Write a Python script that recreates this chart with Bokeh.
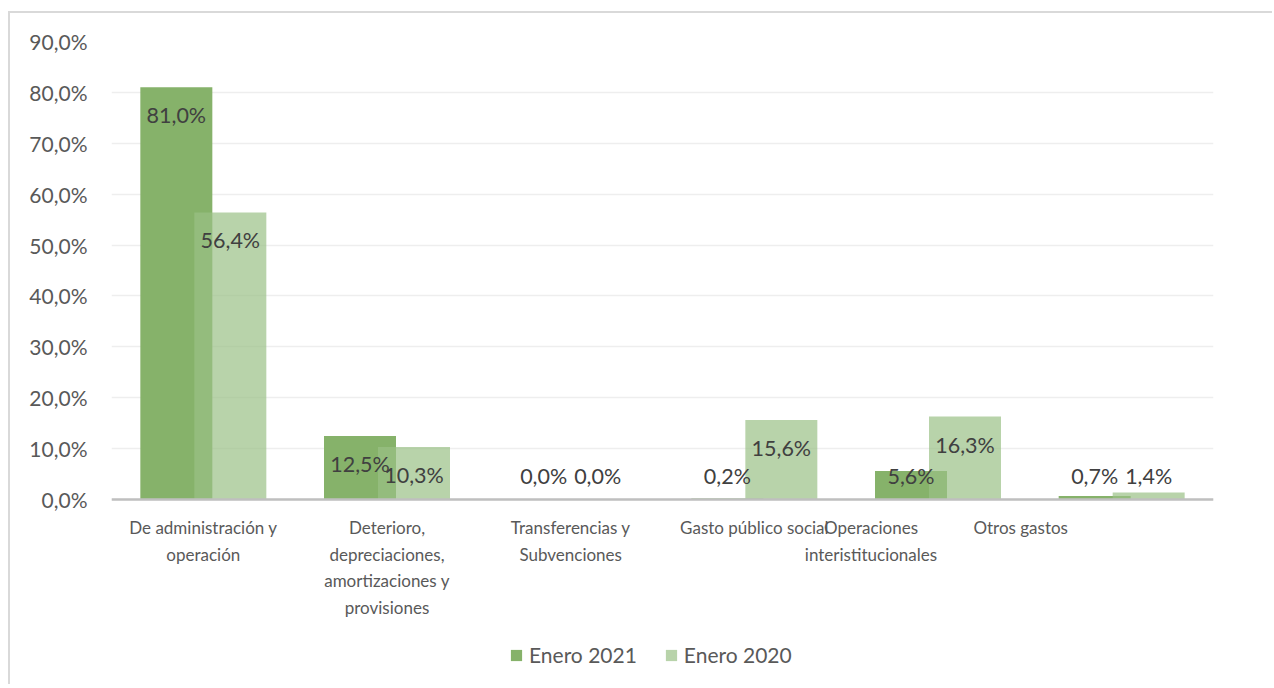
from bokeh.plotting import figure
from bokeh.models import FactorRange, Range1d, FixedTicker, ColumnDataSource, Span
from bokeh.transform import dodge
from bokeh.core.properties import value
from bokeh.embed import file_html
from bokeh.resources import INLINE

# ---------------- data ----------------
categories = ["De administración y operación",
              "Deterioro, depreciaciones, amortizaciones y provisiones",
              "Transferencias y Subvenciones",
              "Gasto público social",
              "Operaciones interistitucionales",
              "Otros gastos"]
category_lines = [["De administración y", "operación"],
                  ["Deterioro,", "depreciaciones,", "amortizaciones y", "provisiones"],
                  ["Transferencias y", "Subvenciones"],
                  ["Gasto público social"],
                  ["Operaciones", "interistitucionales"],
                  ["Otros gastos"]]
enero_2021 = [81.0, 12.5, 0.0, 0.2, 5.6, 0.7]
enero_2020 = [56.4, 10.3, 0.0, 15.6, 16.3, 1.4]
series_names = ["Enero 2021", "Enero 2020"]
y_ticks = [0, 10, 20, 30, 40, 50, 60, 70, 80, 90]

# ---------------- layout / style ----------------
W, H = 1264, 673
LEFT, RIGHT, TOP, BOTTOM = 103, 59, 30, 4
PLOT_H_POS = 458          # px from 0% to 90%
PLOT_H_NEG = 181          # px below 0% (label + legend area)
ppu = PLOT_H_POS / 90.0
DARK = "#86b26a"
LIGHT = "#9ac086"
LIGHT_ALPHA = 0.7
TICK_COLOR = "#595959"
LABEL_COLOR = "#404040"
FONT = "Lato"
BAR_W = 0.392
OFF = 0.147
cat_label_xoff = [0, 0, 0, 0, -67, -101]


def fmt(v):
    return ("%.1f" % v).replace(".", ",") + "%"


p = figure(width=W, height=H, output_backend="svg", toolbar_location=None,
           x_range=FactorRange(*categories, range_padding=0),
           y_range=Range1d(-PLOT_H_NEG / ppu, 90),
           x_axis_location=None,
           min_border_left=LEFT, min_border_right=RIGHT,
           min_border_top=TOP, min_border_bottom=BOTTOM)
p.margin = (11, 0, 0, 8)
p.styles = {"box-shadow": "inset 2px 2px 0 #d9d9d9"}
p.border_fill_alpha = 0
p.background_fill_color = None
p.outline_line_color = None
p.xgrid.grid_line_color = None
p.ygrid.grid_line_color = "#eeeeee"
p.ygrid.grid_line_width = 1.5

ax = p.yaxis[0]
ax.ticker = FixedTicker(ticks=y_ticks)
ax.major_label_overrides = {t: fmt(t) for t in y_ticks}
ax.axis_line_color = None
ax.major_tick_line_color = None
ax.minor_tick_line_color = None
ax.major_label_standoff = 18
ax.major_label_text_font = FONT
ax.major_label_text_font_size = "21px"
ax.major_label_text_color = TICK_COLOR

src = ColumnDataSource(dict(cat=categories, a=enero_2021, b=enero_2020))
p.vbar(x=dodge("cat", -OFF, range=p.x_range), top="a", width=BAR_W, source=src,
       fill_color=DARK, line_color=None, legend_label=series_names[0])
p.vbar(x=dodge("cat", OFF, range=p.x_range), top="b", width=BAR_W, source=src,
       fill_color=LIGHT, fill_alpha=LIGHT_ALPHA, line_color=None,
       legend_label=series_names[1])

p.add_layout(Span(location=0, dimension="width", line_color="#bfbfbf", line_width=2.5))

# data labels (inside end, clamped near the base)
def label_y(v):
    return max(v - 28 / ppu, 24 / ppu)

lab = ColumnDataSource(dict(
    cat=categories,
    ya=[label_y(v) for v in enero_2021], ta=[fmt(v) for v in enero_2021],
    yb=[label_y(v) for v in enero_2020], tb=[fmt(v) for v in enero_2020]))
for xo, ycol, tcol in [(-OFF, "ya", "ta"), (OFF, "yb", "tb")]:
    p.text(x=dodge("cat", xo, range=p.x_range), y=ycol, text=tcol, source=lab,
           text_align="center", text_baseline="middle",
           text_font=value(FONT), text_font_size=value("21.5px"),
           text_color=LABEL_COLOR)

# category labels
cx, cy, ct, co = [], [], [], []
for c, lines, xo in zip(categories, category_lines, cat_label_xoff):
    for i, line in enumerate(lines):
        cx.append(c)
        cy.append(-(28 + 26.5 * i) / ppu)
        ct.append(line)
        co.append(xo)
p.text(x="x", y="y", text="t", x_offset="o",
       source=ColumnDataSource(dict(x=cx, y=cy, t=ct, o=co)),
       text_align="center", text_baseline="middle",
       text_font=value(FONT), text_font_size=value("17px"), text_color=TICK_COLOR)

lg = p.legend[0]
lg.location = (398, 13)
lg.orientation = "horizontal"
lg.border_line_color = None
lg.background_fill_alpha = 0
lg.padding = 0
lg.margin = 0
lg.spacing = 27
lg.label_standoff = 6
lg.glyph_width = 14
lg.glyph_height = 14
lg.label_height = 21
lg.label_text_font = FONT
lg.label_text_font_size = "21px"
lg.label_text_color = TICK_COLOR

open("out.html", "w").write(file_html(p, INLINE))
